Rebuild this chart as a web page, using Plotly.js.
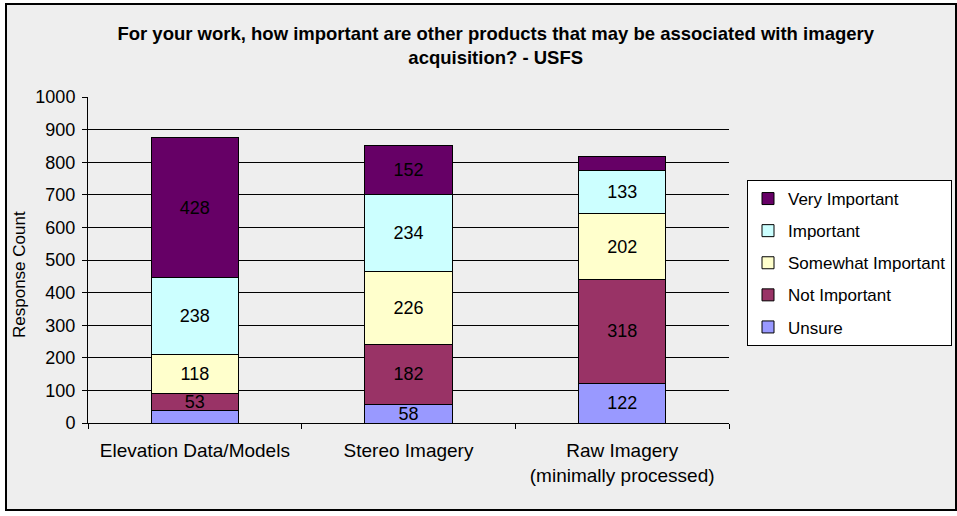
<!DOCTYPE html>
<html>
<head>
<meta charset="utf-8">
<script src="https://cdn.plot.ly/plotly-3.0.1.min.js"></script>
<style>
html,body{margin:0;padding:0;background:#ffffff;}
#chart{width:957px;height:516px;}
</style>
</head>
<body>
<div id="chart"></div>
<script>
const categories = ["Elevation Data/Models", "Stereo Imagery", "Raw Imagery<br>(minimally processed)"];
const unsure = [38, 58, 122];
const notImportant = [53, 182, 318];
const somewhatImportant = [118, 226, 202];
const important = [238, 234, 133];
const veryImportant = [428, 152, 44];
const seriesNames = ["Unsure", "Not Important", "Somewhat Important", "Important", "Very Important"];
const seriesColors = ["#9999FF", "#993366", "#FFFFCC", "#CCFFFF", "#660066"];
const yTicks = [0, 100, 200, 300, 400, 500, 600, 700, 800, 900, 1000];

const seriesValues = [unsure, notImportant, somewhatImportant, important, veryImportant];
const FONT = "Liberation Sans, Arial, sans-serif";

const traces = seriesValues.map((vals, i) => ({
  type: "bar",
  name: seriesNames[i],
  x: categories,
  y: vals,
  text: vals.map(v => v >= 50 ? String(v) : ""),
  textposition: "inside",
  insidetextanchor: "middle",
  textangle: 0,
  constraintext: "none",
  textfont: {family: FONT, size: 18, color: "#000000"},
  marker: {color: seriesColors[i], line: {color: "#000000", width: 1}},
  legendgroup: "g" + i,
  legendrank: 100 - i,
  hoverinfo: "none"
}));

const L = 88, R = 729, T = 97, B = 423, W = 957, H = 516;
const pw = R - L, ph = B - T;
function px(x){ return (x - L) / pw; }
function py(y){ return (B - y) / ph; }

const layout = {
  width: W, height: H,
  margin: {l: L, r: W - R, t: T, b: H - B, pad: 0},
  paper_bgcolor: "#ffffff",
  plot_bgcolor: "rgba(0,0,0,0)",
  barmode: "stack",
  bargap: 0.59,
  font: {family: FONT, size: 17, color: "#000000"},
  title: {
    text: "<b>For your work, how important are other products that may be associated with imagery<br>acquisition? - USFS</b>",
    font: {family: FONT, size: 18.5, color: "#000000"},
    x: 0.518, xanchor: "center",
    y: 1 - 40 / H, yanchor: "middle"
  },
  xaxis: {
    type: "category",
    showline: true, linecolor: "#000000", linewidth: 1,
    ticks: "outside", ticklen: 5, tickcolor: "#000000",
    tickson: "boundaries",
    ticklabelstandoff: 10,
    showgrid: false,
    tickfont: {size: 19},
    automargin: false
  },
  yaxis: {
    range: [0, 1000],
    tickvals: yTicks,
    ticktext: yTicks.map(String),
    showline: true, linecolor: "#000000", linewidth: 1,
    ticks: "outside", ticklen: 5, tickcolor: "#000000",
    ticklabelstandoff: 3,
    showgrid: true, gridcolor: "#000000", gridwidth: 1,
    zeroline: false,
    tickfont: {size: 18},
    automargin: false
  },
  annotations: [{
    xref: "paper", yref: "paper",
    x: px(19), y: py(275),
    xanchor: "center", yanchor: "middle",
    text: "Response Count",
    textangle: -90,
    showarrow: false,
    font: {family: FONT, size: 17, color: "#000000"}
  }],
  legend: {
    xref: "container", yref: "container",
    x: 747 / W, xanchor: "left",
    y: 1 - 180 / H, yanchor: "top",
    bgcolor: "#ffffff",
    bordercolor: "#000000", borderwidth: 1,
    font: {size: 17},
    traceorder: "grouped",
    tracegroupgap: 7,
    itemwidth: 30,
    itemclick: false
  },
  shapes: [{
    type: "rect", xref: "paper", yref: "paper", layer: "below",
    x0: px(6), x1: px(956), y0: py(510), y1: py(4),
    fillcolor: "#eeeeee",
    line: {color: "#000000", width: 2}
  }],
  showlegend: true
};

Plotly.newPlot("chart", traces, layout, {displayModeBar: false, staticPlot: true});
</script>
</body>
</html>
